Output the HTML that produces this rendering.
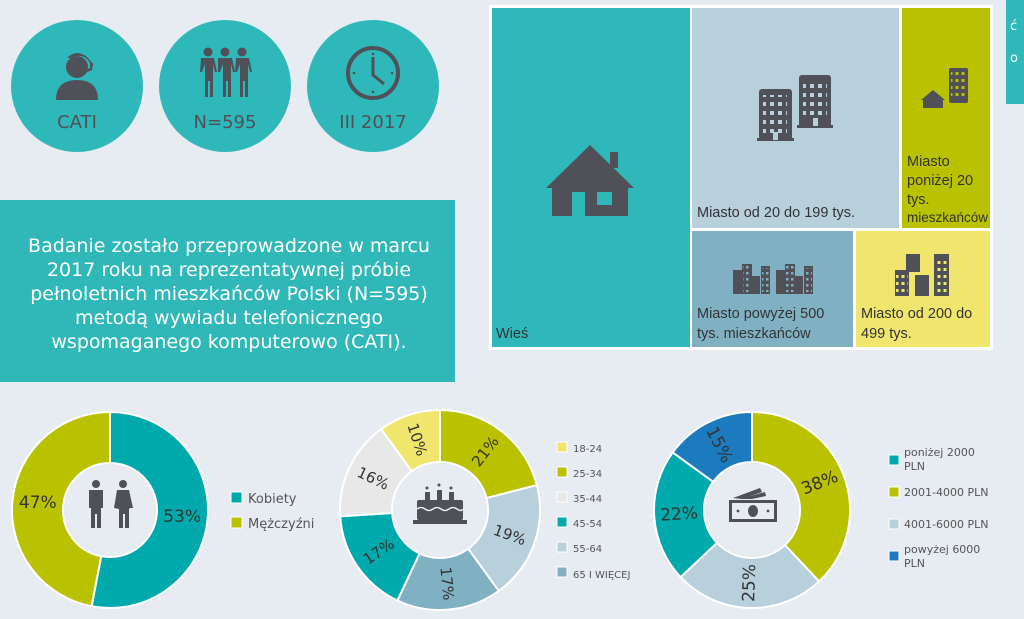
<!DOCTYPE html>
<html><head><meta charset="utf-8">
<style>
html,body{margin:0;padding:0;width:1024px;height:619px;overflow:hidden;background:#e6ecf2;}
svg{display:block}
.v{font-family:"DejaVu Sans","Liberation Sans",sans-serif;}
.c{font-family:"Liberation Sans",sans-serif;}
</style></head><body>
<svg id="s" width="1024" height="619" viewBox="0 0 1024 619" xmlns="http://www.w3.org/2000/svg">
<defs><pattern id="win" x="0" y="0" width="8" height="9" patternUnits="userSpaceOnUse"><rect x="2" y="3" width="4" height="4" fill="#b8cfdc"/></pattern>
<pattern id="win2" x="0" y="0" width="6" height="7" patternUnits="userSpaceOnUse"><rect x="1.5" y="2" width="3" height="3" fill="#bac200"/></pattern>
<pattern id="win3" x="0" y="0" width="5" height="6" patternUnits="userSpaceOnUse"><rect x="1" y="2" width="2.5" height="2.5" fill="#7fb1c3"/></pattern>
<pattern id="win4" x="0" y="0" width="6" height="7" patternUnits="userSpaceOnUse"><rect x="1.5" y="2" width="3" height="3" fill="#f0e66e"/></pattern></defs>
<rect width="1024" height="619" fill="#e6ecf2"/>
<g fill="#2fb8b9"><circle cx="77" cy="86" r="66"/><circle cx="225" cy="86" r="66"/><circle cx="373" cy="86" r="66"/></g>
<g fill="#4f5058">
<circle cx="77" cy="67" r="11"/>
<path d="M56 100 Q56 80 77 80 Q98 80 98 100 Z"/>
<path d="M67 58 Q77 48 88 58 L93 64 L92 70 L80 75 L79 73 L90 68 L90 63 Q84 52 70 58Z"/>
<circle cx="208" cy="52" r="4.5"/><circle cx="225" cy="52" r="4.5"/><circle cx="242" cy="52" r="4.5"/>
<path d="M201 58h13l3 14h-2l-2-8v33h-3v-16h-2v16h-3v-33l-3 8h-2z"/>
<path d="M218 58h14l3 14h-2l-2-8v33h-3v-16h-2v16h-3v-33l-3 8h-2z"/>
<path d="M236 58h13l3 14h-2l-2-8v33h-3v-16h-2v16h-3v-33l-3 8h-2z"/>
</g>
<circle cx="373" cy="73" r="25" fill="none" stroke="#4f5058" stroke-width="4"/>
<path d="M373 57v18l11 9" fill="none" stroke="#4f5058" stroke-width="3"/>
<g fill="#4f5058"><circle cx="373" cy="54" r="1.3"/><circle cx="373" cy="92" r="1.3"/><circle cx="354" cy="73" r="1.3"/><circle cx="392" cy="73" r="1.3"/></g>
<g class="v" font-size="18" fill="#4f5058" text-anchor="middle">
<text x="77" y="128">CATI</text><text x="225" y="128">N=595</text><text x="373" y="128">III 2017</text></g>
<rect x="0" y="200" width="455" height="182" fill="#30b8b9"/>
<g class="v" font-size="19" fill="#fff" text-anchor="middle">
<text x="229" y="252">Badanie zostało przeprowadzone w marcu</text>
<text x="229" y="276">2017 roku na reprezentatywnej próbie</text>
<text x="229" y="300">pełnoletnich mieszkańców Polski (N=595)</text>
<text x="229" y="324">metodą wywiadu telefonicznego</text>
<text x="229" y="348">wspomaganego komputerowo (CATI).</text>
</g>
<rect x="489" y="5" width="504" height="345" fill="#fff"/>
<rect x="492" y="8" width="198" height="339" fill="#2fb8b9"/>
<rect x="692" y="8" width="207" height="220" fill="#b8cfdc"/>
<rect x="902" y="8" width="88" height="220" fill="#bac200"/>
<rect x="692" y="231" width="161" height="116" fill="#7fb1c3"/>
<rect x="856" y="231" width="134" height="116" fill="#f0e66e"/>
<rect x="1006" y="0" width="18" height="104" fill="#2fb8b9"/>
<text x="1010" y="30" class="v" font-size="13" fill="#fff">ć</text>
<text x="1010" y="62" class="v" font-size="13" fill="#fff">o</text>
<g fill="#4f5058">
<path d="M590 145 L634 188 L628 188 L628 216 L552 216 L552 188 L546 188 Z" />
<rect x="610" y="152" width="8" height="16"/>
</g>
<rect x="572" y="192" width="13" height="24" fill="#2fb8b9"/>
<rect x="597" y="192" width="15" height="13" fill="#2fb8b9"/>
<g fill="#4f5058">
<rect x="759" y="89" width="33" height="51" rx="3"/><rect x="757" y="138" width="37" height="3"/>
<rect x="799" y="75" width="32" height="52" rx="3"/><rect x="797" y="125" width="36" height="3"/>
<rect x="949" y="68" width="19" height="35" rx="2"/>
<path d="M933 90 L945 100 L943 100 L943 108 L923 108 L923 100 L921 100Z"/>
<rect x="733" y="270" width="9" height="24"/><rect x="742" y="264" width="10" height="30"/><rect x="752" y="276" width="8" height="18"/><rect x="761" y="266" width="9" height="28"/>
<rect x="776" y="270" width="9" height="24"/><rect x="785" y="264" width="10" height="30"/><rect x="795" y="276" width="8" height="18"/><rect x="804" y="266" width="9" height="28"/>
<rect x="895" y="270" width="14" height="26"/><rect x="906" y="254" width="14" height="18"/><rect x="915" y="275" width="14" height="21"/><rect x="934" y="254" width="15" height="42"/>
</g>
<rect x="763" y="95" width="24" height="38" fill="url(#win)"/>
<rect x="803" y="80" width="24" height="40" fill="url(#win)"/>
<rect x="773" y="132" width="5" height="8" fill="#b8cfdc"/><rect x="813" y="118" width="5" height="8" fill="#b8cfdc"/>
<rect x="951" y="72" width="15" height="28" fill="url(#win2)"/>
<rect x="743" y="266" width="8" height="26" fill="url(#win3)"/><rect x="786" y="266" width="8" height="26" fill="url(#win3)"/>
<rect x="762" y="268" width="7" height="24" fill="url(#win3)"/><rect x="805" y="268" width="7" height="24" fill="url(#win3)"/>
<rect x="935" y="257" width="13" height="37" fill="url(#win4)"/><rect x="896" y="272" width="12" height="22" fill="url(#win4)"/>
<g class="c" font-size="14.5" fill="#333">
<text x="496" y="338">Wieś</text>
<text x="697" y="217">Miasto od 20 do 199 tys.</text>
<text x="907" y="166">Miasto</text><text x="907" y="185">poniżej 20</text><text x="907" y="204">tys.</text><text x="907" y="222" font-size="13.5">mieszkańców</text>
<text x="697" y="318">Miasto powyżej 500</text><text x="697" y="338">tys. mieszkańców</text>
<text x="861" y="318">Miasto od 200 do</text><text x="861" y="338">499 tys.</text>
</g>
<g id="charts"></g>
<g fill="#4f5058">
<circle cx="96" cy="484" r="4"/><path d="M89 490h14v18h-2v20h-4v-14h-2v14h-4v-20h-2z"/>
<circle cx="123" cy="484" r="4"/><path d="M117 490h12l4 18h-3l-1 1v19h-4v-14h-2v14h-4v-19l-5-1z"/>
<rect x="417" y="500" width="46" height="20" rx="2"/><rect x="413" y="520" width="54" height="4"/>
<rect x="425" y="492" width="5" height="8"/><rect x="437" y="490" width="5" height="10"/><rect x="449" y="492" width="5" height="8"/>
<circle cx="427" cy="488" r="1.5"/><circle cx="439" cy="485" r="1.5"/><circle cx="451" cy="488" r="1.5"/>
</g>
<path d="M417 509 q4 -3 8 0 t8 0 t8 0 t8 0 t8 0 t6 0" fill="none" stroke="#e6ecf2" stroke-width="1.5"/>
<g fill="#4f5058">
<path d="M733 498 L760 488 L762 492 L742 499Z"/>
<path d="M740 499 L765 492 L766 496 L752 499Z"/>
<rect x="729" y="500" width="48" height="22"/>
</g>
<rect x="732" y="503" width="42" height="16" fill="#e6ecf2"/>
<g fill="#4f5058"><ellipse cx="753" cy="511" rx="5" ry="6"/><circle cx="738" cy="511" r="1.4"/><circle cx="768" cy="511" r="1.4"/></g>
<g class="v" font-size="13" fill="#555">
<rect x="231" y="492" width="11" height="11" fill="#00a9ab" stroke="#fff"/><text x="248" y="503">Kobiety</text>
<rect x="231" y="517" width="11" height="11" fill="#bac200" stroke="#fff"/><text x="248" y="528">Mężczyźni</text>
</g>
<g class="v" font-size="10" fill="#555">
<rect x="557" y="442" width="10" height="10" fill="#f0e66e" stroke="#fff"/><text x="573" y="452">18-24</text>
<rect x="557" y="467" width="10" height="10" fill="#bac200" stroke="#fff"/><text x="573" y="477">25-34</text>
<rect x="557" y="492" width="10" height="10" fill="#e8e8e8" stroke="#fff"/><text x="573" y="502">35-44</text>
<rect x="557" y="517" width="10" height="10" fill="#00a9ab" stroke="#fff"/><text x="573" y="527">45-54</text>
<rect x="557" y="542" width="10" height="10" fill="#b8cfdc" stroke="#fff"/><text x="573" y="552">55-64</text>
<rect x="557" y="567" width="10" height="10" fill="#7fb1c3" stroke="#fff"/><text x="573" y="578">65  I WIĘCEJ</text>
</g>
<g class="v" font-size="11" fill="#555">
<rect x="889" y="455" width="10" height="10" fill="#00a9ab" stroke="#fff"/><text x="904" y="456">poniżej 2000</text><text x="904" y="470">PLN</text>
<rect x="889" y="487" width="10" height="10" fill="#bac200" stroke="#fff"/><text x="904" y="496">2001-4000 PLN</text>
<rect x="889" y="519" width="10" height="10" fill="#b8cfdc" stroke="#fff"/><text x="904" y="528">4001-6000 PLN</text>
<rect x="889" y="551" width="10" height="10" fill="#1c7bbf" stroke="#fff"/><text x="904" y="553">powyżej 6000</text><text x="904" y="567">PLN</text>
</g>
</svg>
<script>
var NS="http://www.w3.org/2000/svg",g=document.getElementById("charts");
function el(t,a,txt){var e=document.createElementNS(NS,t);for(var k in a)e.setAttribute(k,a[k]);if(txt)e.textContent=txt;g.appendChild(e);return e;}
function donut(cx,cy,R,r,data,rot,fs){
 var s=0;data.forEach(function(d){
  var a0=s*3.6,a1=(s+d[0])*3.6;s+=d[0];
  function p(rad,a){var t=(a-90)*Math.PI/180;return [cx+rad*Math.cos(t),cy+rad*Math.sin(t)];}
  var P1=p(R,a0),P2=p(R,a1),P3=p(r,a1),P4=p(r,a0),lg=(a1-a0)>180?1:0;
  el("path",{d:"M"+P1+" A"+R+" "+R+" 0 "+lg+" 1 "+P2+" L"+P3+" A"+r+" "+r+" 0 "+lg+" 0 "+P4+"Z",fill:d[1],stroke:"#fff","stroke-width":2});
  var m=(a0+a1)/2,L=p((R+r)/2,m),ang=0;
  if(rot){ang=m-90;while(ang>90)ang-=180;while(ang<=-90)ang+=180;}
  el("text",{x:L[0],y:L[1],"text-anchor":"middle","dominant-baseline":"central","font-size":fs,fill:"#333","class":"v",transform:"rotate("+ang+" "+L[0]+" "+L[1]+")"},d[0]+"%");
 });
 el("circle",{cx:cx,cy:cy,r:r-1,fill:"#e6ecf2"});
}
donut(110,510,98,47,[[53,"#00a9ab"],[47,"#bac200"]],false,17);
donut(440,510,100,48,[[21,"#bac200"],[19,"#b8cfdc"],[17,"#7fb1c3"],[17,"#00a9ab"],[16,"#e8e8e8"],[10,"#f0e66e"]],true,15);
donut(752,510,98,48,[[38,"#bac200"],[25,"#b8cfdc"],[22,"#00a9ab"],[15,"#1c7bbf"]],true,17);
</script>
</body></html>
